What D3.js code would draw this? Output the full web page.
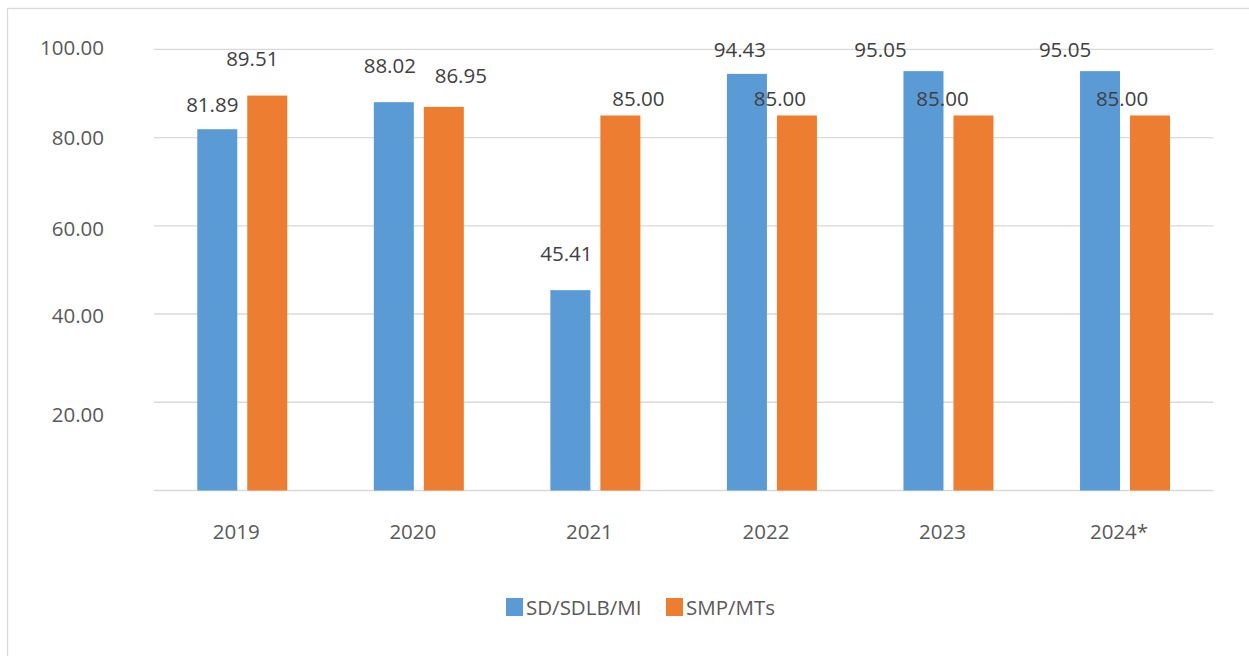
<!DOCTYPE html>
<html>
<head>
<meta charset="utf-8">
<script src="https://cdn.jsdelivr.net/npm/d3@7"></script>
<style>
  html, body { margin: 0; padding: 0; background: #fff; }
  svg { display: block; }
  text { font-family: "Open Sans", "Noto Sans", sans-serif; }
</style>
</head>
<body>
<svg id="chart" width="1249" height="656"></svg>
<script>
// ---- data ----
const categories = ["2019", "2020", "2021", "2022", "2023", "2024*"];
const seriesNames = ["SD/SDLB/MI", "SMP/MTs"];
const sdValues = [81.89, 88.02, 45.41, 94.43, 95.05, 95.05];
const smpValues = [89.51, 86.95, 85.00, 85.00, 85.00, 85.00];
const yTickValues = [20, 40, 60, 80, 100];

// ---- layout / style (not data) ----
const colors = ["#5b9bd5", "#ed7d31"];
const labelNudge = [
  [[-5, -25], [-4, -37], [-4, -37], [-7, -25], [-43, -22], [-35, -22]],
  [[-15, -38], [17, -32], [18, -17.5], [-17, -17], [-31, -17], [-28, -17]]
];
const yLabelNudge = [11, 0, 2, -1, -2.5];

const svg = d3.select("#chart");
svg.append("rect").attr("width", 1249).attr("height", 656).attr("fill", "#fff");
// chart border (extends past right/bottom edges)
svg.append("rect")
  .attr("x", 7.5).attr("y", 8.5).attr("width", 1400).attr("height", 800)
  .attr("fill", "none").attr("stroke", "#d9d9d9").attr("stroke-width", 1.3);

const x0 = d3.scaleBand().domain(categories).range([154, 1213.3]).padding(0);
const groupWidth = 90;
const x1 = d3.scaleBand().domain(seriesNames).range([0, groupWidth]).paddingInner(0.2);
const y = d3.scaleLinear().domain([0, 100]).range([490.5, 49.3]);

// gridlines
const gridVals = [0].concat(yTickValues);
svg.append("g").selectAll("line").data(gridVals).join("line")
  .attr("x1", 154).attr("x2", 1213.3)
  .attr("y1", d => y(d)).attr("y2", d => y(d))
  .attr("stroke", "#d9d9d9").attr("stroke-width", 1.3);

// y axis labels
const yAxis = d3.axisLeft(y).tickValues(yTickValues).tickFormat(d3.format(".2f")).tickSize(0).tickPadding(0);
const yg = svg.append("g").attr("transform", "translate(104,0)").call(yAxis);
yg.select(".domain").remove();
yg.selectAll("text")
  .attr("font-size", "20.5px").attr("fill", "#595959")
  .attr("font-family", "Open Sans, Noto Sans, sans-serif")
  .attr("dy", (d, i) => (yLabelNudge[i]) + "px")
  .attr("dominant-baseline", "central");

// x axis labels
const xAxis = d3.axisBottom(x0).tickSize(0).tickPadding(0);
const xg = svg.append("g").attr("transform", "translate(-6,531)").call(xAxis);
xg.select(".domain").remove();
xg.selectAll("text")
  .attr("font-size", "20.5px").attr("fill", "#595959")
  .attr("font-family", "Open Sans, Noto Sans, sans-serif")
  .attr("y", 0).attr("dy", 0).attr("dominant-baseline", "central");

// bars
const series = [sdValues, smpValues];
const offset = (x0.bandwidth() - groupWidth) / 2;
series.forEach((vals, s) => {
  const g = svg.append("g");
  g.selectAll("rect").data(vals).join("rect")
    .attr("x", (d, i) => x0(categories[i]) + offset + x1(seriesNames[s]))
    .attr("width", x1.bandwidth())
    .attr("y", d => y(d))
    .attr("height", d => y(0) - y(d))
    .attr("fill", colors[s]);
});

// value labels
series.forEach((vals, s) => {
  svg.append("g").selectAll("text").data(vals).join("text")
    .attr("x", (d, i) => x0(categories[i]) + offset + x1(seriesNames[s]) + x1.bandwidth() / 2 + labelNudge[s][i][0])
    .attr("y", (d, i) => y(d) + labelNudge[s][i][1])
    .attr("text-anchor", "middle")
    .attr("dominant-baseline", "central")
    .attr("font-size", "20.5px")
    .attr("fill", "#404040")
    .text(d => d3.format(".2f")(d));
});

// legend
const legendX = [506, 666];
const lg = svg.append("g");
seriesNames.forEach((name, i) => {
  lg.append("rect").attr("x", legendX[i]).attr("y", 598).attr("width", 17).attr("height", 18).attr("fill", colors[i]);
  lg.append("text").attr("x", legendX[i] + 20).attr("y", 607)
    .attr("dominant-baseline", "central")
    .attr("font-size", "20.5px").attr("fill", "#595959")
    .text(name);
});
</script>
</body>
</html>
